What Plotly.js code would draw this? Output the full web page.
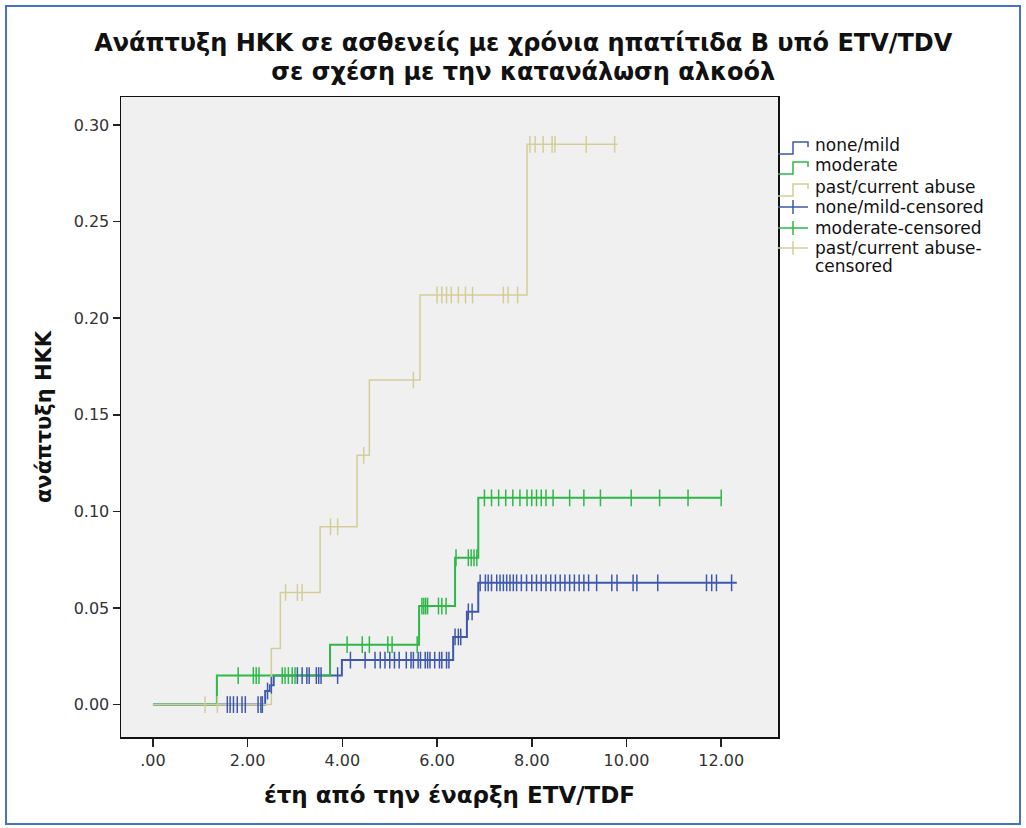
<!DOCTYPE html>
<html>
<head>
<meta charset="utf-8">
<script src="https://cdn.plot.ly/plotly-3.0.1.min.js"></script>
<style>
  html, body { margin: 0; padding: 0; background: #ffffff; }
  #frame { position: absolute; left: 5px; top: 5px; width: 1012px; height: 816px; border: 2px solid #4472c4; pointer-events: none; }
  #chart { position: absolute; left: 0; top: 0; width: 1026px; height: 828px; }
</style>
</head>
<body>
<div id="chart"></div>
<div id="frame"></div>
<script>
// Cumulative HCC incidence (Kaplan-Meier, 1 - survival) by alcohol consumption group

const groupNames = ["none/mild", "moderate", "past/current abuse"];
const censoredNames = ["none/mild-censored", "moderate-censored", "past/current abuse-", "censored"];
const groupColors = ["#3e58ac", "#2eb848", "#d3ce97"];

// event times (years) and cumulative incidence after each step
const noneMildTimes = [0, 2.37, 2.47, 2.55, 3.99, 6.34, 6.63, 6.87];
const noneMildInc   = [0, 0.007, 0.010, 0.015, 0.023, 0.035, 0.048, 0.063];
const noneMildEnd   = 12.33;
const noneMildCensored = [1.57, 1.63, 1.70, 1.78, 1.88, 1.95, 2.22, 2.28, 2.31, 2.42, 2.50,
  3.05, 3.15, 3.25, 3.30, 3.45, 3.50, 3.55, 3.90,
  4.17, 4.48, 4.69, 4.80, 4.90, 5.00, 5.10, 5.20, 5.35, 5.45, 5.50, 5.60, 5.65, 5.75, 5.80, 5.85, 5.95, 6.05, 6.10, 6.20, 6.25,
  6.38, 6.45, 6.50, 6.66, 6.74,
  6.91, 7.02, 7.08, 7.15, 7.26, 7.33, 7.40, 7.47, 7.54, 7.61, 7.68, 7.78, 7.89, 8.00, 8.10,
  8.20, 8.30, 8.40, 8.50, 8.60, 8.70, 8.80, 8.90, 9.00, 9.10, 9.20, 9.37,
  9.69, 9.80, 10.14, 10.22, 10.66, 11.69, 11.80, 11.90, 12.22];

const moderateTimes = [0, 1.35, 3.74, 5.62, 6.38, 6.87];
const moderateInc   = [0, 0.015, 0.031, 0.051, 0.076, 0.107];
const moderateEnd   = 12.0;
const moderateCensored = [1.80, 2.12, 2.18, 2.24, 2.73, 2.79, 2.86, 2.94, 3.00,
  4.10, 4.42, 4.57, 4.96, 5.05, 5.58,
  5.68, 5.72, 5.76, 5.80, 6.03, 6.10, 6.19,
  6.40, 6.66, 6.72, 6.78, 6.84,
  7.00, 7.15, 7.30, 7.45, 7.60, 7.75, 7.90, 8.00, 8.10, 8.20, 8.30, 8.45, 8.80, 9.10, 9.45, 10.10, 10.70, 11.30, 12.00];

const abuseTimes = [0, 2.50, 2.69, 3.53, 4.31, 4.57, 5.64, 7.90];
const abuseInc   = [0, 0.029, 0.058, 0.092, 0.129, 0.168, 0.212, 0.290];
const abuseEnd   = 9.81;
const abuseCensored = [1.10, 1.36, 2.80, 3.05, 3.15, 3.75, 3.90, 4.45, 5.50,
  6.00, 6.10, 6.20, 6.30, 6.45, 6.60, 6.75, 7.40, 7.50, 7.70,
  7.96, 8.07, 8.24, 8.43, 8.49, 9.15, 9.75];

const xTickVals = [0, 2, 4, 6, 8, 10, 12];
const xTickText = [".00", "2.00", "4.00", "6.00", "8.00", "10.00", "12.00"];
const yTickVals = [0, 0.05, 0.10, 0.15, 0.20, 0.25, 0.30];

const titleLines = ["Ανάπτυξη ΗΚΚ σε ασθενείς με χρόνια ηπατίτιδα B υπό ETV/TDV", "σε σχέση με την κατανάλωση αλκοόλ"];
const xTitle = "έτη από την έναρξη ETV/TDF";
const yTitle = "ανάπτυξη ΗΚΚ";

// page geometry
const FW = 1026, FH = 828, ML = 121, MR = 248, MT = 97, MB = 91;
const px2x = px => (px - ML) / (FW - ML - MR);
const py2y = py => 1 - (py - MT) / (FH - MT - MB);

const groups = [
  { times: noneMildTimes, inc: noneMildInc, end: noneMildEnd, cens: noneMildCensored },
  { times: moderateTimes, inc: moderateInc, end: moderateEnd, cens: moderateCensored },
  { times: abuseTimes, inc: abuseInc, end: abuseEnd, cens: abuseCensored }
];

function levelAt(times, inc, t) {
  let v = inc[0];
  for (let i = 0; i < times.length; i++) if (times[i] <= t) v = inc[i];
  return v;
}

const traces = [];
groups.forEach((g, i) => {
  traces.push({
    type: "scatter", mode: "lines", name: groupNames[i],
    x: g.times.concat([g.end]),
    y: g.inc.concat([g.inc[g.inc.length - 1]]),
    line: { shape: "hv", color: groupColors[i], width: i === 2 ? 1.5 : 2 },
    hoverinfo: "x+y", showlegend: false
  });
});
groups.forEach((g, i) => {
  traces.push({
    type: "scatter", mode: "markers", name: censoredNames[i],
    x: g.cens,
    y: g.cens.map(t => levelAt(g.times, g.inc, t)),
    marker: { symbol: "line-ns", size: 12, line: { color: groupColors[i], width: 1.5 } },
    hoverinfo: "x+y", showlegend: false
  });
});

// legend drawn beside the plot frame: three step keys, three censor keys
const legendRows = [145, 165, 187, 207, 228, 248];
const legendLabels = groupNames.concat(censoredNames.slice(0, 3));
const shapes = [];
const annotations = [];
const fx0 = 778, fxm = 793, fx1 = 808;
legendRows.forEach((yc, k) => {
  const color = groupColors[k % 3];
  if (k < 3) {
    const path = "M " + px2x(fx0) + "," + py2y(yc + 9) +
      " L " + px2x(fxm) + "," + py2y(yc + 9) +
      " L " + px2x(fxm) + "," + py2y(yc - 3) +
      " L " + px2x(fx1) + "," + py2y(yc - 3) +
      " L " + px2x(fx1) + "," + py2y(yc + 2);
    shapes.push({ type: "path", xref: "paper", yref: "paper", path: path, line: { color: color, width: 1.5 } });
  } else {
    shapes.push({ type: "line", xref: "paper", yref: "paper", x0: px2x(fx0), x1: px2x(fx1), y0: py2y(yc), y1: py2y(yc), line: { color: color, width: 1.5 } });
    shapes.push({ type: "line", xref: "paper", yref: "paper", x0: px2x(fxm), x1: px2x(fxm), y0: py2y(yc - 7), y1: py2y(yc + 7), line: { color: color, width: 1.5 } });
  }
  annotations.push({
    xref: "paper", yref: "paper", x: px2x(813), y: py2y(yc),
    xanchor: "left", yanchor: "middle", align: "left", showarrow: false,
    text: legendLabels[k],
    font: { family: "DejaVu Sans, sans-serif", size: 17, color: "#111" }
  });
});
// wrapped second line of the last legend label
annotations.push({
  xref: "paper", yref: "paper", x: px2x(813), y: py2y(266),
  xanchor: "left", yanchor: "middle", align: "left", showarrow: false,
  text: censoredNames[3],
  font: { family: "DejaVu Sans, sans-serif", size: 17, color: "#111" }
});

const layout = {
  width: FW, height: FH,
  margin: { l: ML, r: MR, t: MT, b: MB, pad: 0 },
  paper_bgcolor: "rgba(0,0,0,0)",
  plot_bgcolor: "#f0f0f0",
  showlegend: false,
  title: {
    // base size sets the line pitch, spans set the glyph size
    text: titleLines.map(s => '<span style="font-size:24px">' + s + '</span>').join("<br>"),
    x: 0.51, xanchor: "center", y: 1 - 51 / FH, yanchor: "middle",
    font: { family: "DejaVu Sans, sans-serif", size: 22.3, color: "#111", weight: "bold" }
  },
  xaxis: {
    range: [-0.675, 13.2], tickvals: xTickVals, ticktext: xTickText,
    showgrid: false, zeroline: false, showline: true, mirror: true, linecolor: "#111", linewidth: 1.5,
    ticks: "outside", ticklen: 8, tickwidth: 1.5, tickcolor: "#222",
    tickfont: { family: "DejaVu Sans, sans-serif", size: 16, color: "#333" },
    title: { text: xTitle, standoff: 18, font: { family: "DejaVu Sans, sans-serif", size: 23, color: "#111", weight: "bold" } },
    automargin: false
  },
  yaxis: {
    range: [-0.0168, 0.3145], tickvals: yTickVals, tickformat: ".2f",
    showgrid: false, zeroline: false, showline: true, mirror: true, linecolor: "#111", linewidth: 1.5,
    ticks: "outside", ticklen: 7, tickwidth: 1.5, tickcolor: "#222",
    tickfont: { family: "DejaVu Sans, sans-serif", size: 16, color: "#333" },
    title: { text: yTitle, standoff: 16, font: { family: "DejaVu Sans, sans-serif", size: 21, color: "#111", weight: "bold" } },
    automargin: false
  },
  shapes: shapes,
  annotations: annotations
};

Plotly.newPlot("chart", traces, layout, { displayModeBar: false, staticPlot: true });
</script>
</body>
</html>
